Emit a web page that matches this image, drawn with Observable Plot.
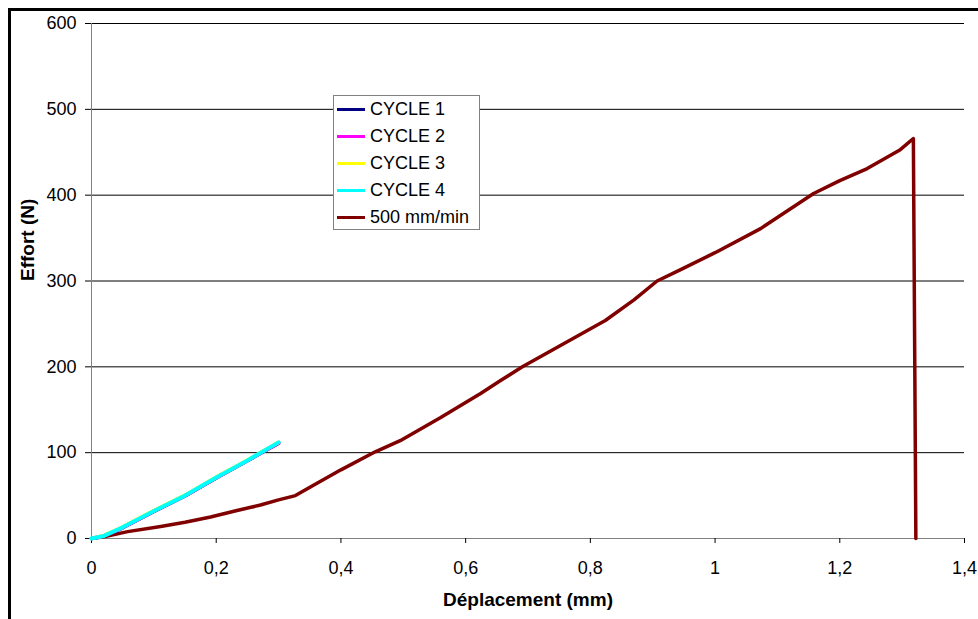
<!DOCTYPE html>
<html><head><meta charset="utf-8">
<script src="https://cdn.jsdelivr.net/npm/d3@7"></script>
<script src="https://cdn.jsdelivr.net/npm/@observablehq/plot@0.6"></script>
<style>
body{margin:0;background:#fff;font-family:"Liberation Sans",Arial,sans-serif;}
#wrap{position:relative;width:978px;height:619px;overflow:hidden;background:#fff;}
#frame{position:absolute;left:8px;top:8px;width:2000px;height:2000px;border-left:3px solid #000;border-top:3px solid #000;pointer-events:none;}
#chart{position:absolute;left:0;top:0;}
#legend{position:absolute;left:333px;top:95px;width:145px;height:133px;border:1px solid #808080;background:#fff;box-sizing:content-box;}
.row{position:absolute;left:0;height:27px;display:flex;align-items:center;font-size:18px;color:#000;white-space:nowrap;}
.sw{display:inline-block;width:28px;height:3px;margin-left:3px;margin-right:5px;}
</style>
</head><body>
<div id="wrap"><div id="chart"></div><div id="frame"></div><div id="legend"></div></div>
<script>
// Data
const seriesNames = ["CYCLE 1", "CYCLE 2", "CYCLE 3", "CYCLE 4", "500 mm/min"];
const seriesColors = ["#000080", "#FF00FF", "#FFFF00", "#00FFFF", "#800000"];

const cycleX  = [0, 0.02, 0.05, 0.10, 0.15, 0.20, 0.25, 0.30];
const cycle1Y = [0, 3, 12.5, 31.5, 49.5, 70.5, 90.5, 111];
const cycle2Y = [0, 3, 12.5, 31.5, 49.5, 70.5, 90.5, 111];
const cycle3Y = [0, 3.5, 13.5, 32.5, 50.5, 71.5, 91.5, 112];
const cycle4Y = [0, 3, 13, 32, 50, 71, 91, 112];

const speedX = [0, 0.02, 0.058, 0.111, 0.15, 0.191, 0.23, 0.271, 0.30, 0.327, 0.351, 0.40, 0.455, 0.495, 0.56, 0.624, 0.656, 0.691, 0.76, 0.824, 0.87, 0.907, 0.944, 1.00, 1.073, 1.158, 1.20, 1.244, 1.297, 1.318, 1.322];
const speedY = [0, 2, 8, 14, 19, 25, 32, 39, 45, 50, 60, 80, 101, 114, 141, 169, 184, 200, 228, 254, 278, 300, 313, 333, 361, 402, 417, 431, 453, 466, 0];

const xTicks = [0, 0.2, 0.4, 0.6, 0.8, 1, 1.2, 1.4];
const yTicks = [0, 100, 200, 300, 400, 500, 600];
const yGrid  = [100, 200, 300, 400, 500, 600];

const xTitle = "Déplacement (mm)";
const yTitle = "Effort (N)";

// Build rows
const toRows = (name, xs, ys) => xs.map((x, i) => ({series: name, x, y: ys[i]}));
const lines = [
  toRows(seriesNames[4], speedX, speedY),
  toRows(seriesNames[0], cycleX, cycle1Y),
  toRows(seriesNames[1], cycleX, cycle2Y),
  toRows(seriesNames[2], cycleX, cycle3Y),
  toRows(seriesNames[3], cycleX, cycle4Y)
];
const colorOf = Object.fromEntries(seriesNames.map((n, i) => [n, seriesColors[i]]));

const fmt = d => String(d).replace(".", ",");

const plot = Plot.plot({
  width: 978, height: 619,
  marginLeft: 91, marginRight: 14, marginTop: 23, marginBottom: 81,
  x: {domain: [0, 1.4]},
  y: {domain: [0, 600]},
  style: {fontFamily: '"Liberation Sans", Arial, sans-serif', fontSize: "18px", color: "#000", background: "transparent", overflow: "visible"},
  marks: [
    Plot.gridY(yGrid, {stroke: "#000", strokeOpacity: 1, strokeWidth: 1}),
    Plot.ruleX([0], {stroke: "#808080", strokeWidth: 1}),
    Plot.ruleY([0], {stroke: "#808080", strokeWidth: 1}),
    Plot.axisY(yTicks, {tickSize: 6, tickPadding: 9, label: null, tickFormat: fmt, fontSize: 18}),
    Plot.axisX(xTicks, {tickSize: 5, tickPadding: 18, label: null, tickFormat: fmt, fontSize: 18}),
    ...lines.map(rows => Plot.line(rows, {x: "x", y: "y", stroke: colorOf[rows[0].series], strokeWidth: rows[0].series === seriesNames[3] ? 4 : 3.5, strokeLinejoin: "round", strokeLinecap: "round"})),
    Plot.text([yTitle], {frameAnchor: "left", dx: -64, rotate: -90, fontWeight: "bold", fontSize: 19, text: d => d}),
    Plot.text([xTitle], {frameAnchor: "bottom", dy: 67, fontWeight: "bold", fontSize: 19, text: d => d})
  ]
});
document.getElementById("chart").appendChild(plot);

// Legend
const leg = document.getElementById("legend");
seriesNames.forEach((n, i) => {
  const r = document.createElement("div");
  r.className = "row";
  r.style.top = (0 + i * 27) + "px";
  r.innerHTML = `<span class="sw" style="background:${seriesColors[i]}"></span><span>${n}</span>`;
  leg.appendChild(r);
});
</script>
</body></html>
